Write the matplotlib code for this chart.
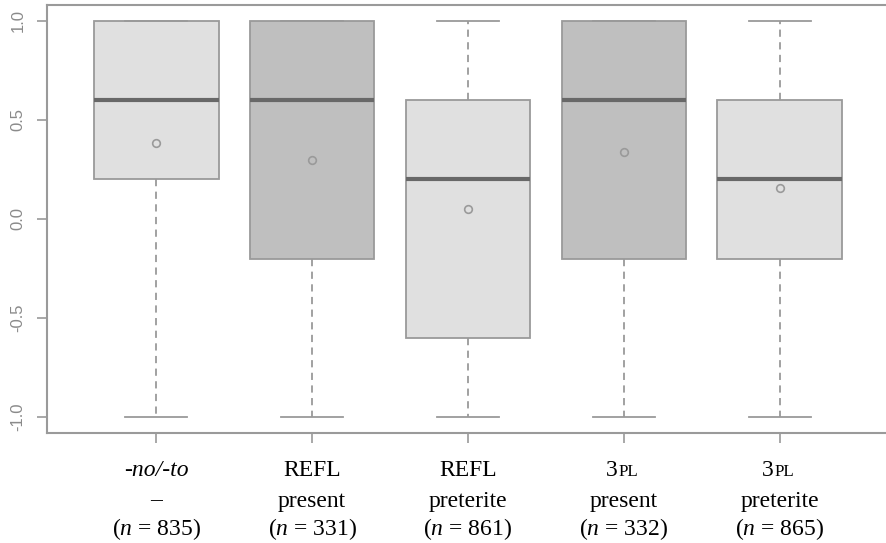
import matplotlib
matplotlib.use("Agg")
import matplotlib.pyplot as plt
import matplotlib.transforms as mtransforms

# Box statistics
labels_top = ["-no/-to", "REFL", "REFL", "3", "3"]
labels_mid = ["\u2013", "present", "preterite", "present", "preterite"]
n_counts = [835, 331, 861, 332, 865]
whislo = [-1.0, -1.0, -1.0, -1.0, -1.0]
q1 = [0.2, -0.2, -0.6, -0.2, -0.2]
med = [0.6, 0.6, 0.2, 0.6, 0.2]
q3 = [1.0, 1.0, 0.6, 1.0, 0.6]
whishi = [1.0, 1.0, 1.0, 1.0, 1.0]
means = [0.385, 0.30, 0.05, 0.34, 0.155]
fills = ["#e0e0e0", "#bfbfbf", "#e0e0e0", "#bfbfbf", "#e0e0e0"]

plt.rcParams["mathtext.fontset"] = "custom"
plt.rcParams["mathtext.rm"] = "Liberation Serif"
plt.rcParams["mathtext.it"] = "Liberation Serif:italic"

edge = "#9a9a9a"

fig = plt.figure(figsize=(8.86, 5.43), dpi=100)
ax = fig.add_axes([47 / 886, 1 - 433 / 543, 842 / 886, 428 / 543])

stats = []
for i in range(len(med)):
    stats.append({
        "whislo": whislo[i], "q1": q1[i], "med": med[i], "q3": q3[i],
        "whishi": whishi[i], "mean": means[i], "fliers": [],
    })

bp = ax.bxp(
    stats,
    positions=range(1, 6),
    widths=0.8,
    patch_artist=True,
    showmeans=True,
    showcaps=True,
    boxprops=dict(edgecolor=edge, linewidth=1.3),
    medianprops=dict(color="#686868", linewidth=3),
    whiskerprops=dict(color=edge, linewidth=1.3, linestyle=(0, (4, 3))),
    capprops=dict(color=edge, linewidth=1.3),
    meanprops=dict(marker="o", markerfacecolor="none", markeredgecolor=edge,
                   markersize=5.5, markeredgewidth=1.2),
    capwidths=0.4,
)
for patch, col in zip(bp["boxes"], fills):
    patch.set_facecolor(col)

ax.set_xlim(0.3, 5.7)
ax.set_ylim(-1.08, 1.08)
ax.set_yticks([-1.0, -0.5, 0.0, 0.5, 1.0])
ax.set_yticklabels(["-1.0", "-0.5", "0.0", "0.5", "1.0"], rotation=90,
                   va="center", fontsize=12, color="#8a8a8a",
                   family="Liberation Sans")
ax.set_xticks(range(1, 6))
ax.set_xticklabels([])
ax.tick_params(axis="both", color=edge, length=7.5, width=1.2)
ax.tick_params(axis="y", pad=8)

for side in ["left", "top", "bottom", "right"]:
    ax.spines[side].set_color(edge)
    ax.spines[side].set_linewidth(1.5)

# category labels below the axis
trans = mtransforms.blended_transform_factory(ax.transData, fig.transFigure)
fs = 17
y1 = 1 - 470 / 543
y2 = 1 - 501 / 543
y3 = 1 - 529 / 543
for i in range(5):
    x = i + 1
    if i == 0:
        ax.text(x, y1, labels_top[i], transform=trans, ha="center", va="center",
                fontsize=fs, family="Liberation Serif", style="italic")
    elif labels_top[i] == "3":
        off_l = mtransforms.offset_copy(trans, fig=fig, x=-6, y=0, units="dots")
        off_r = mtransforms.offset_copy(trans, fig=fig, x=-5, y=0, units="dots")
        ax.text(x, y1, "3", transform=off_l, ha="right", va="center",
                fontsize=fs, family="Liberation Serif")
        ax.text(x, y1 - 0.003, "PL", transform=off_r, ha="left", va="center",
                fontsize=fs * 0.72, family="Liberation Serif")
    else:
        ax.text(x, y1, labels_top[i], transform=trans, ha="center", va="center",
                fontsize=fs, family="Liberation Serif")
    ax.text(x, y2, labels_mid[i], transform=trans, ha="center", va="center",
            fontsize=fs, family="Liberation Serif")
    ax.text(x, y3, r"($\mathit{n}$ = %d)" % n_counts[i], transform=trans,
            ha="center", va="center", fontsize=fs, family="Liberation Serif")

fig.savefig("out.png", dpi=100)
